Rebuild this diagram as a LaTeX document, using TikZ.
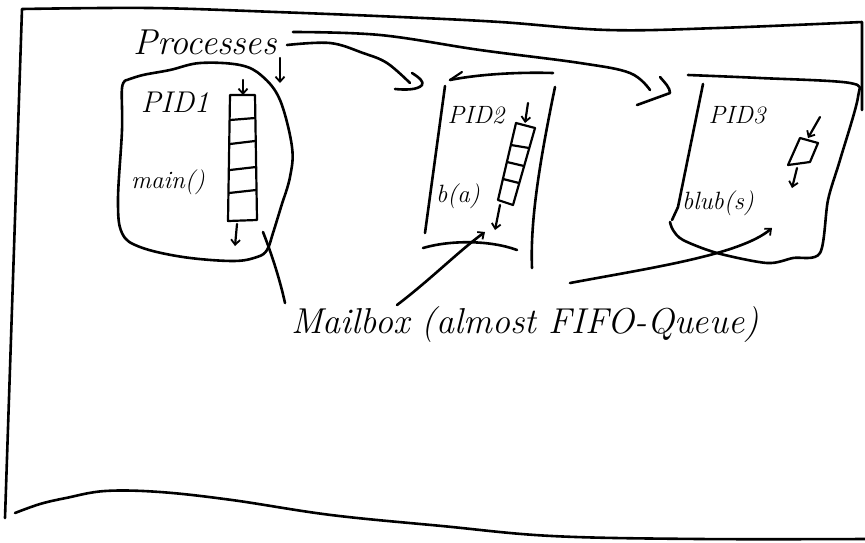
\documentclass[tikz,border=0pt]{standalone}
\usetikzlibrary{arrows.meta}
\begin{document}
\begin{tikzpicture}[x=1pt,y=-1pt,
  ink/.style={line width=2.6pt, line cap=round, line join=round},
  pen/.style={line width=2.2pt, line cap=round, line join=round},
  tip/.style={-{Straight Barb[length=5pt,width=9pt,line width=1.8pt]}},
  hand/.style={inner sep=0pt},
]
\useasboundingbox (0,0) rectangle (865,542);

% outer frame
\draw[ink] (862,110) -- (862,22)
  plot[smooth, tension=0.6] coordinates {(862,22) (718,28) (608,30) (500,22) (400,17) (276,12) (150,8) (22,9)}
  -- (5,518);
\draw[ink] plot[smooth, tension=0.6] coordinates {(15,513) (40,504) (66,498) (105,491) (160,492) (232,500) (331,515) (442,526) (552,536) (700,539) (865,539)};

% texts
\node[hand, font=\fontsize{36}{40}\selectfont\itshape] (proc) at (205,42) {Processes};
\node[hand, font=\fontsize{30}{34}\selectfont\itshape] (pid1) at (175,102) {PID1};
\node[hand, font=\fontsize{25}{28}\selectfont\itshape] (main) at (168,182) {main()};
\node[hand, font=\fontsize{25}{28}\selectfont\itshape] (pid2) at (476,115) {PID2};
\node[hand, font=\fontsize{25}{28}\selectfont\itshape] (ba) at (458,196) {b(a)};
\node[hand, font=\fontsize{25}{28}\selectfont\itshape] (pid3) at (737,115) {PID3};
\node[hand, font=\fontsize{25}{28}\selectfont\itshape] (blub) at (718,203) {blub(s)};
\node[hand, font=\fontsize{36}{40}\selectfont\itshape] (mail) at (525,325) {Mailbox (almost FIFO-Queue)};

% coordinates for connectors
\coordinate (p1) at (293,32);
\coordinate (p2) at (287,45);
\coordinate (pd) at (280,58);
\coordinate (b1top) at (280,83);
\coordinate (m1) at (285,303);
\coordinate (b1bot) at (263,232);
\coordinate (m2) at (397,305);
\coordinate (q2) at (485,232);
\coordinate (m3) at (570,283);
\coordinate (q3) at (772,228);

% PID1 box
\draw[ink] plot[smooth, tension=0.6] coordinates {(127,80) (143,75) (170,70) (200,63) (240,65) (262,76) (280,100) (292,147) (290,177) (281,207) (273,233) (267,250) (257,257) (233,261) (183,257) (140,247) (122,233) (118,200) (122,130) (122,88) (127,80)};
% queue PID1
\draw[pen] (230,95) -- (255,95) -- (257,220) -- (228,221) -- cycle;
\draw[pen] (230,120) -- (255,118) (230,144) -- (255,141) (230,170) -- (256,167) (229,193) -- (256,190);
\draw[pen, tip] (243,80) -- (243,95);
\draw[pen, tip] (237,224) -- (235,246);

% PID2 box
\draw[ink] (450,80) .. controls (480,74) and (520,72) .. (553,73);
\draw[pen] (462,72) -- (450,80);
\draw[ink] (445,86) -- (425,233);
\draw[ink] (555,87) .. controls (540,160) and (530,220) .. (532,268);
\draw[ink] (423,248) .. controls (450,240) and (490,240) .. (517,250);
% queue PID2
\draw[pen] (516,123) -- (535,128) -- (513,205) -- (498,200) -- cycle;
\draw[pen] (511,145) -- (529,148) (507,162) -- (524,166) (503,179) -- (519,183);
\draw[pen, tip] (528,103) -- (525,123);
\draw[pen, tip] (500,205) -- (495,230);

% PID3 box
\draw[ink] plot[smooth, tension=0.5] coordinates {(688,75) (760,78) (850,83) (858,97) (840,160) (828,200) (820,253) (793,258) (767,263) (717,253) (683,240) (673,230) (670,222)};
\draw[ink] (703,84) -- (678,207) -- (672,220);
% queue PID3
\draw[pen] (800,138) -- (818,143) -- (810,162) -- (788,165) -- cycle;
\draw[pen, tip] (820,117) -- (808,138);
\draw[pen, tip] (797,168) -- (792,188);

% Processes connectors
\draw[ink] plot[smooth, tension=0.6] coordinates {(p1) (380,35) (480,50) (580,63) (630,73) (650,90)};
\draw[ink] (660,77) .. controls (666,84) and (670,88) .. (670,93) -- (637,105);
\draw[ink] plot[smooth, tension=0.6] coordinates {(p2) (330,43) (363,53) (387,63) (410,83)};
\draw[ink] (412,73) .. controls (420,78) and (424,82) .. (422,85) .. controls (418,90) and (405,90) .. (395,89);
\draw[pen, tip] (pd) -- (b1top);

% Mailbox connectors
\draw[ink] (b1bot) .. controls (272,255) and (280,280) .. (m1);
\draw[ink, tip] (m2) .. controls (430,280) and (460,250) .. (q2);
\draw[ink, tip] (m3) .. controls (650,268) and (740,255) .. (q3);
\end{tikzpicture}
\end{document}
